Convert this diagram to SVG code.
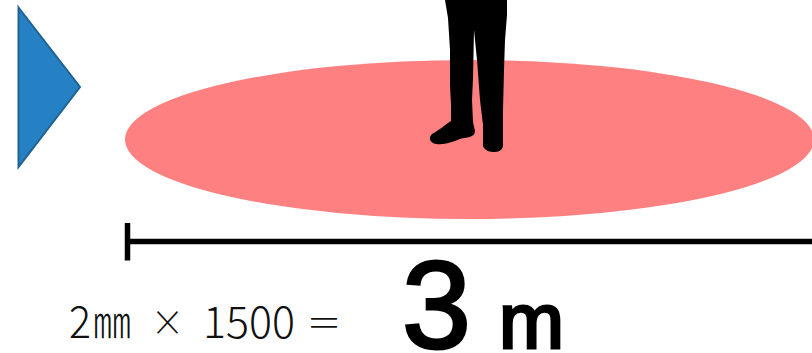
<svg xmlns="http://www.w3.org/2000/svg" width="812" height="353" viewBox="0 0 812 353">
<style>
.cap{font-family:"Noto Sans CJK JP","Liberation Sans",sans-serif;font-weight:300;font-size:44px;fill:#111}
.sym{font-family:"Noto Sans CJK JP","Liberation Sans",sans-serif;font-weight:300;font-size:36px;fill:#111}
.big{font-family:"Liberation Sans",Arial,sans-serif;fill:#000;stroke:#000}
.bar{stroke:#000;fill:none}
</style>
<rect width="812" height="353" fill="#fff"/>
<g id="triangle"><polygon points="18.500,7.500 80,87 18.500,167" fill="#2581c4" stroke="#1f6391" stroke-width="2"/></g>
<g id="ellipse"><ellipse cx="469.500" cy="139.500" rx="344.500" ry="79.500" fill="#ff8080"/></g>
<g id="person"><path fill="#000" d="M445,0 L448,18 L450,50 L450,85 L451,105 L451,121 C445,125 438,131 432,134 C428,138 430,143 436,144 C445,145 452,142 460,139 C466,137 475,138 475,131 L473,122 L472,100 L473,78 L474,30 L477,60 L480,100 L483,125 L483,146 C485,151 490,152 495,152 C500,152 503,149 503,145 L503,110 L504,70 L505,40 L507,15 L507,0 Z"/></g>
<g id="scale"><path class="bar" stroke-width="5.500" d="M128,241.500 H812"/><path class="bar" stroke-width="5.500" d="M127.500,223 V260.500"/></g>
<g id="labels">
<text class="cap" x="69" y="338" textLength="22" lengthAdjust="spacingAndGlyphs">2</text>
<text class="cap" x="93" y="338" textLength="38" lengthAdjust="spacingAndGlyphs">㎜</text>
<text class="sym" x="151" y="336" textLength="33" lengthAdjust="spacingAndGlyphs">×</text>
<text class="cap" x="203" y="338" textLength="92" lengthAdjust="spacingAndGlyphs">1500</text>
<text class="sym" x="309" y="336" textLength="30" lengthAdjust="spacingAndGlyphs">=</text>
<text class="big" x="402" y="348" font-size="124" stroke-width="3">3</text>
<text class="big" x="499" y="348" font-size="78" stroke-width="3">m</text>
</g>
</svg>
